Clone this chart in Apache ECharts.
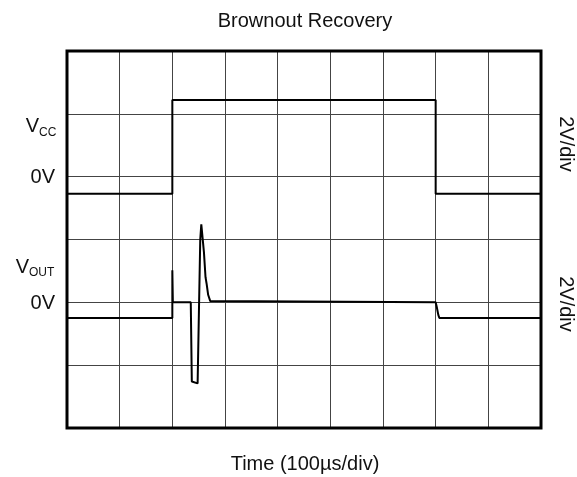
<!DOCTYPE html>
<html>
<head>
<meta charset="utf-8">
<script src="https://cdn.jsdelivr.net/npm/echarts@6/dist/echarts.min.js"></script>
<style>html,body{margin:0;padding:0;background:#fff;}#c{width:577px;height:477px;}</style>
</head>
<body>
<div id="c"></div>
<script>
// Time in divisions (100 µs/div), voltages in screen divisions (2 V/div)
var vccTime  = [0, 2.0, 2.0, 7.0, 7.0, 9];
var vccValue = [3.73, 3.73, 5.22, 5.22, 3.73, 3.73];
var voutTime  = [0, 2.0, 2.0, 2.01, 2.35, 2.37, 2.38, 2.48, 2.49, 2.53, 2.55, 2.57, 2.6, 2.63, 2.65, 2.66, 2.68, 2.72, 2.75, 7.0, 7.02, 7.05, 7.07, 9];
var voutValue = [1.75, 1.75, 2.51, 2.0, 2.0, 0.74, 0.71, 0.71, 0.74, 3.0, 3.24, 3.22, 2.8, 2.4, 2.3, 2.27, 2.12, 2.02, 2.0, 2.0, 1.93, 1.8, 1.75, 1.75];
var xTickCount = 9;
var yTickCount = 6;
var titleText = 'Brownout Recovery';
var xAxisText = 'Time (100\u00b5s/div)';
var scaleText = '2V/div';

function zip(a, b) { return a.map(function (v, i) { return [v, b[i]]; }); }

var font = '"Liberation Sans", Arial, sans-serif';
var chart = echarts.init(document.getElementById('c'));
chart.setOption({
  animation: false,
  backgroundColor: '#fff',
  grid: { left: 67, right: 36, top: 51, bottom: 49, show: true, borderColor: '#000', borderWidth: 3, backgroundColor: 'transparent', z: 3 },
  xAxis: {
    type: 'value', min: 0, max: xTickCount, interval: 1,
    axisLine: { show: false }, axisTick: { show: false }, axisLabel: { show: false },
    splitLine: { show: true, lineStyle: { color: '#444', width: 1 } }
  },
  yAxis: {
    type: 'value', min: 0, max: yTickCount, interval: 1,
    axisLine: { show: false }, axisTick: { show: false }, axisLabel: { show: false },
    splitLine: { show: true, lineStyle: { color: '#444', width: 1 } }
  },
  series: [
    { type: 'line', data: zip(vccTime, vccValue), showSymbol: false, symbol: 'none', lineStyle: { color: '#000', width: 2 }, z: 5 },
    { type: 'line', data: zip(voutTime, voutValue), showSymbol: false, symbol: 'none', lineStyle: { color: '#000', width: 2 }, z: 5 }
  ],
  graphic: [
    { type: 'text', x: 305, y: 21, style: { text: titleText, font: '20px ' + font, fill: '#111', align: 'center', verticalAlign: 'middle' } },
    { type: 'text', x: 305, y: 464, style: { text: xAxisText, font: '20px ' + font, fill: '#111', align: 'center', verticalAlign: 'middle' } },
    { type: 'text', x: 39, y: 126, style: { text: 'V', font: '20px ' + font, fill: '#111', align: 'right', verticalAlign: 'middle' } },
    { type: 'text', x: 39, y: 133, style: { text: 'CC', font: '12px ' + font, fill: '#111', align: 'left', verticalAlign: 'middle' } },
    { type: 'text', x: 55, y: 177, style: { text: '0V', font: '20px ' + font, fill: '#111', align: 'right', verticalAlign: 'middle' } },
    { type: 'text', x: 29, y: 267, style: { text: 'V', font: '20px ' + font, fill: '#111', align: 'right', verticalAlign: 'middle' } },
    { type: 'text', x: 29, y: 273, style: { text: 'OUT', font: '12px ' + font, fill: '#111', align: 'left', verticalAlign: 'middle' } },
    { type: 'text', x: 55, y: 303, style: { text: '0V', font: '20px ' + font, fill: '#111', align: 'right', verticalAlign: 'middle' } },
    { type: 'text', x: 566, y: 144, rotation: -Math.PI / 2, style: { text: scaleText, font: '20px ' + font, fill: '#111', align: 'center', verticalAlign: 'middle' } },
    { type: 'text', x: 566, y: 304, rotation: -Math.PI / 2, style: { text: scaleText, font: '20px ' + font, fill: '#111', align: 'center', verticalAlign: 'middle' } }
  ]
});
</script>
</body>
</html>
